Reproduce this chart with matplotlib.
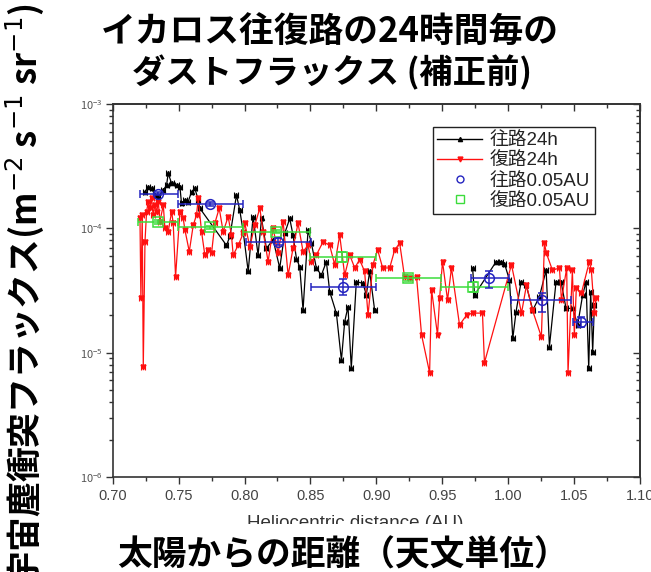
import numpy as np
import matplotlib
matplotlib.use("Agg")
import matplotlib.pyplot as plt
from matplotlib.lines import Line2D
from matplotlib.patches import Rectangle
from matplotlib.ticker import MultipleLocator, LogLocator, FormatStrFormatter, NullFormatter

plt.rcParams['font.family'] = ['Noto Sans CJK JP', 'DejaVu Sans']

# ---------------- data ----------------
# 往路24h (outbound, 24-hour bins)
out_x = np.array([0.7245, 0.7270, 0.7295, 0.7320, 0.7346, 0.7384, 0.7409, 0.7421, 0.7447, 0.7485,
                  0.7510, 0.7522, 0.7548, 0.7573, 0.7598, 0.7623, 0.7649, 0.7661, 0.7863, 0.7889,
                  0.7939, 0.7964, 0.7990, 0.8028, 0.8065, 0.8103, 0.8129, 0.8166, 0.8217, 0.8267,
                  0.8305, 0.8343, 0.8368, 0.8394, 0.8419, 0.8444, 0.8482, 0.8507, 0.8545, 0.8583,
                  0.8621, 0.8646, 0.8697, 0.8735, 0.8760, 0.8785, 0.8810, 0.8848, 0.8899, 0.8924,
                  0.8949, 0.8987, np.nan,
                  0.9730, 0.9745, 0.9909, 0.9947, 0.9972, 1.0010, 1.0035, 1.0060, 1.0098, 1.0136,
                  1.0187, 1.0237, 1.0288, 1.0313, 1.0363, 1.0401, 1.0439, 1.0490, 1.0527, 1.0565,
                  1.0591, 1.0611, 1.0626, 1.0641, 1.0654])
out_y = np.array([1.97e-4, 2.16e-4, 2.10e-4, 1.85e-4, 1.80e-4, 2.03e-4, 2.23e-4, 2.77e-4, 2.30e-4, 2.23e-4,
                  2.16e-4, 1.59e-4, 1.69e-4, 1.64e-4, 1.97e-4, 2.10e-4, 1.69e-4, 1.45e-4, 7.3e-5, 8.6e-5,
                  1.85e-4, 1.40e-4, 9.4e-5, 4.5e-5, 1.24e-4, 6.1e-5, 1.20e-4, 6.9e-5, 8.1e-5, 4.8e-5,
                  9.1e-5, 1.20e-4, 8.8e-5, 5.7e-5, 4.9e-5, 2.2e-5, 9.7e-5, 7.6e-5, 4.8e-5, 4.2e-5,
                  5.4e-5, 3.1e-5, 2.07e-5, 8.7e-6, 1.78e-5, 2.34e-5, 7.5e-6, 3.72e-5, 3.61e-5, 2.91e-5,
                  4.5e-5, 2.2e-5, np.nan,
                  4.8e-5, 2.91e-5, 5.4e-5, 5.4e-5, 5.2e-5, 3.84e-5, 1.30e-5, 2.14e-5, 3.72e-5, 3.5e-5,
                  2.2e-5, 2.82e-5, 4.62e-5, 1.12e-5, 3.72e-5, 3.72e-5, 2.27e-5, 2.27e-5, 1.67e-5, 2.91e-5,
                  3.72e-5, 7.5e-6, 3.09e-5, 1.02e-5, 2.42e-5])

# 復路24h (return, 24-hour bins)
ret_x = np.array([0.7207, 0.7214, 0.7224, 0.7232, 0.7245, 0.7257, 0.7270, 0.7283, 0.7295, 0.7308,
                  0.7320, 0.7333, 0.7346, 0.7358, 0.7384, 0.7396, 0.7421, 0.7447, 0.7459, 0.7477,
                  0.7510, 0.7535, 0.7548, 0.7581, 0.7611, 0.7636, 0.7649, 0.7674, 0.7699, 0.7724,
                  0.7750, 0.7775, 0.7808, 0.7838, 0.7876, 0.7901, 0.7914, 0.7952, 0.7990, 0.8002,
                  0.8040, 0.8078, 0.8116, 0.8141, 0.8179, 0.8217, 0.8255, 0.8293, 0.8331, 0.8368,
                  0.8406, 0.8444, 0.8482, 0.8507, 0.8545, 0.8596, 0.8646, 0.8684, 0.8722, 0.8760,
                  0.8798, 0.8836, 0.8873, 0.8911, 0.8937, 0.8974, 0.9010, 0.9048, 0.9101, 0.9139,
                  0.9177, 0.9214, 0.9252, 0.9305, 0.9343, 0.9404, 0.9419, 0.9464, 0.9480, 0.9502,
                  0.9540, 0.9570, 0.9631, 0.9684, 0.9730, 0.9805, 0.9820, 1.0025, 1.0101, 1.0139,
                  1.0184, 1.0252, 1.0275, 1.0290, 1.0336, 1.0389, 1.0404, 1.0444, 1.0454, 1.0487,
                  1.0502, 1.0517, 1.0555, 1.0616, 1.0631, 1.0654, 1.0666])
ret_y = np.array([1.20e-4, 2.73e-5, 1.28e-4, 7.7e-6, 7.8e-5, 1.36e-4, 1.64e-4, 1.45e-4, 1.74e-4, 1.28e-4,
                  1.54e-4, 1.36e-4, 1.64e-4, 1.13e-4, 1.54e-4, 1.00e-4, 9.4e-5, 1.36e-4, 1.10e-4, 4.08e-5,
                  1.36e-4, 1.20e-4, 9.7e-5, 6.5e-5, 1.06e-4, 1.28e-4, 1.74e-4, 9.4e-5, 6.1e-5, 6.7e-5,
                  6.3e-5, 1.10e-4, 1.45e-4, 9.4e-5, 1.24e-4, 8.8e-5, 6.1e-5, 7.3e-5, 9.1e-5, 1.10e-4,
                  7.1e-5, 1.06e-4, 1.45e-4, 9.4e-5, 5.4e-5, 1.00e-4, 6.3e-5, 1.13e-4, 4.2e-5, 6.9e-5,
                  1.10e-4, 6.5e-5, 7.3e-5, 5.4e-5, 6.1e-5, 7.8e-5, 7.3e-5, 5.1e-5, 8.8e-5, 4.2e-5,
                  6.1e-5, 4.8e-5, 5.6e-5, 4.5e-5, 2.0e-5, 5.1e-5, 6.7e-5, 4.8e-5, 4.8e-5, 6.7e-5,
                  7.6e-5, 4.06e-5, 3.99e-5, 4.06e-5, 1.39e-5, 6.9e-6, 3.19e-5, 1.39e-5, 2.75e-5, 5.4e-5,
                  2.65e-5, 4.8e-5, 1.67e-5, 2.0e-5, 2.08e-5, 2.08e-5, 8.3e-6, 5.1e-5, 2.08e-5, 3.5e-5,
                  2.2e-5, 1.34e-5, 7.6e-5, 6.3e-5, 4.6e-5, 4.8e-5, 2.65e-5, 4.8e-5, 6.9e-6, 4.6e-5,
                  1.39e-5, 3.3e-5, 3.0e-5, 5.4e-5, 4.6e-5, 2.08e-5, 2.73e-5])

# 往路0.05AU (outbound, 0.05 AU bins)
ob_x = np.array([0.7343, 0.7738, 0.8255, 0.8747, 0.9858, 1.0255, 1.0553])
ob_y = np.array([1.90e-4, 1.56e-4, 7.8e-5, 3.4e-5, 4.0e-5, 2.65e-5, 1.77e-5])
ob_xlo = np.array([0.7207, 0.7495, 0.8015, 0.8507, 0.9719, 1.0022, 1.0490])
ob_xhi = np.array([0.7495, 0.7987, 0.8507, 0.8999, 1.0010, 1.0477, 1.0640])
ob_ylo = np.array([1.84e-4, 1.51e-4, 7.3e-5, 2.9e-5, 3.3e-5, 2.14e-5, 1.60e-5])
ob_yhi = np.array([1.97e-4, 1.62e-4, 8.3e-5, 3.9e-5, 4.55e-5, 3.0e-5, 1.95e-5])

# 復路0.05AU (return, 0.05 AU bins)
rb_x = np.array([0.7346, 0.7737, 0.8242, 0.8740, 0.9240, 0.9737])
rb_y = np.array([1.13e-4, 1.02e-4, 9.4e-5, 5.9e-5, 4.0e-5, 3.4e-5])
rb_xlo = np.array([0.7194, 0.7497, 0.7990, 0.8495, 0.8999, 0.9492])
rb_xhi = np.array([0.7497, 0.7990, 0.8495, 0.8999, 0.9492, 0.9997])
rb_ylo = np.array([1.09e-4, 0.99e-4, 9.1e-5, 5.4e-5, 3.8e-5, 3.1e-5])
rb_yhi = np.array([1.17e-4, 1.05e-4, 9.7e-5, 6.4e-5, 4.2e-5, 3.7e-5])

labels = ['往路24h', '復路24h', '往路0.05AU', '復路0.05AU']
title1 = 'イカロス往復路の24時間毎の'
title2 = 'ダストフラックス (補正前)'
xlabel_en = 'Heliocentric distance (AU)'
xlabel_jp = '太陽からの距離（天文単位）'
ylabel_jp = '宇宙塵衝突フラックス(m$^{-2}$ s$^{-1}$ sr$^{-1}$)'

BLUE = '#2424c0'
GREEN = '#3cdc3c'
RED = '#ff1010'
SPINE = '#333333'

# ---------------- figure ----------------
fig = plt.figure(figsize=(6.51, 5.72), dpi=100)
ax = fig.add_axes([0.1731, 0.1661, 0.8100, 0.6521])

ax.errorbar(out_x, out_y, xerr=0.0015, fmt='-^', color='black', ms=3, lw=0.9,
            elinewidth=0.8, capsize=2.2, capthick=0.8, zorder=2)
ax.errorbar(ret_x, ret_y, xerr=0.0015, fmt='-v', color=RED, ms=3.5, lw=0.9,
            elinewidth=0.8, capsize=2.2, capthick=0.8, zorder=3)
ax.errorbar(ob_x, ob_y, xerr=[ob_x - ob_xlo, ob_xhi - ob_x], yerr=[ob_y - ob_ylo, ob_yhi - ob_y],
            fmt='o', mfc='none', mec=BLUE, ecolor=BLUE, ms=7, mew=1.1,
            elinewidth=1.1, capsize=3, capthick=1.1, zorder=5)
ax.errorbar(rb_x, rb_y, xerr=[rb_x - rb_xlo, rb_xhi - rb_x], yerr=[rb_y - rb_ylo, rb_yhi - rb_y],
            fmt='s', mfc='none', mec=GREEN, ecolor=GREEN, ms=7, mew=1.1,
            elinewidth=1.1, capsize=3, capthick=1.1, zorder=4)

ax.set_xlim(0.70, 1.10)
ax.set_yscale('log')
ax.set_ylim(1e-6, 1e-3)
ax.xaxis.set_major_locator(MultipleLocator(0.05))
ax.xaxis.set_minor_locator(MultipleLocator(0.025))
ax.xaxis.set_major_formatter(FormatStrFormatter('%.2f'))
ax.yaxis.set_major_locator(LogLocator(base=10))
ax.yaxis.set_minor_locator(LogLocator(base=10, subs=np.arange(2, 10)))
ax.yaxis.set_minor_formatter(NullFormatter())

for s in ax.spines.values():
    s.set_color(SPINE)
    s.set_linewidth(1.2)
ax.tick_params(which='both', direction='out', color=SPINE, width=1.0)
ax.tick_params(which='major', length=5)
ax.tick_params(which='minor', length=3)
ax.tick_params(axis='x', labelsize=10.5, labelcolor='#444444', pad=4)
ax.tick_params(axis='y', labelsize=8, labelcolor='#555555', pad=2)
for t in ax.get_xticklabels():
    t.set_fontfamily(['Liberation Sans', 'DejaVu Sans'])

secx = ax.secondary_xaxis('top')
secx.xaxis.set_major_locator(MultipleLocator(0.05))
secx.xaxis.set_minor_locator(MultipleLocator(0.025))
secx.tick_params(which='both', direction='in', labeltop=False, color=SPINE, width=1.0)
secx.tick_params(which='major', length=5)
secx.tick_params(which='minor', length=3)
secx.spines['top'].set_color(SPINE)
secx.spines['top'].set_linewidth(1.2)

secy = ax.secondary_yaxis('right')
secy.yaxis.set_major_locator(LogLocator(base=10))
secy.yaxis.set_minor_locator(LogLocator(base=10, subs=np.arange(2, 10)))
secy.tick_params(which='both', direction='in', labelright=False, color=SPINE, width=1.0)
secy.tick_params(which='major', length=5)
secy.tick_params(which='minor', length=3)
secy.spines['right'].set_color(SPINE)
secy.spines['right'].set_linewidth(1.2)

handles = [
    Line2D([], [], color='black', marker='^', ms=3, lw=1),
    Line2D([], [], color=RED, marker='v', ms=3.5, lw=1),
    Line2D([], [], ls='none', marker='o', mfc='none', mec=BLUE, ms=5, mew=1),
    Line2D([], [], ls='none', marker='s', mfc='none', mec=GREEN, ms=5.5, mew=1),
]
leg = ax.legend(handles, labels, loc='upper left', bbox_to_anchor=(0.607, 0.937),
                prop={'family': ['Liberation Sans', 'Noto Sans CJK JP'], 'size': 13.5},
                frameon=True, fancybox=False, framealpha=1,
                edgecolor='#222222', handlelength=2.4, handletextpad=0.4,
                labelspacing=0.16, borderpad=0.25, borderaxespad=0)
leg.get_frame().set_linewidth(1.0)
for t in leg.get_texts():
    t.set_color('#222222')

# ---------------- texts ----------------
fig.text(0.507, 0.943, title1, ha='center', va='center', fontsize=25, fontweight='bold')
fig.text(0.510, 0.873, title2, ha='center', va='center', fontsize=24, fontweight='bold')
fig.text(0.545, 1 - 515 / 572, xlabel_en, ha='center', va='top', fontsize=13.5,
         color='#333333', family=['Liberation Sans', 'DejaVu Sans'])
fig.add_artist(Rectangle((0.15, 0), 0.8, (572 - 523.5) / 572, transform=fig.transFigure,
                         facecolor='white', edgecolor='none', zorder=5))
fig.text(0.527, 0.030, xlabel_jp, ha='center', va='center', fontsize=25, fontweight='bold',
         zorder=6)
fig.text(0.038, 0.995, ylabel_jp, ha='center', va='top', rotation=90, fontsize=25,
         fontweight='bold')

fig.savefig('out.png', dpi=100)
